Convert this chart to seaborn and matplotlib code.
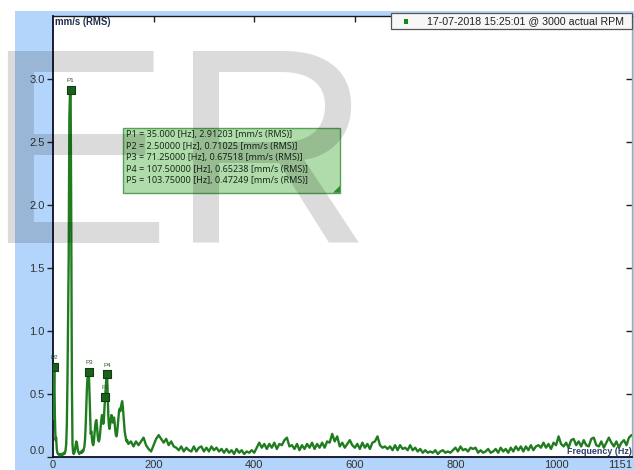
import numpy as np
import pandas as pd
import seaborn as sns
import matplotlib.pyplot as plt
from matplotlib.patches import Rectangle, Polygon

# ---- spectrum data -------------------------------------------------------
# low band: 1.25 Hz bins from 0 to 150 Hz
low_step = 1.25
low_amp = [
    0.30, 0.45, 0.71, 0.32, 0.13, 0.15, 0.06, 0.03, 0.02, 0.02,
    0.01, 0.02, 0.01, 0.02, 0.02, 0.01, 0.02, 0.03, 0.02, 0.03,
    0.05, 0.10, 0.25, 0.60, 1.13, 1.60, 2.70, 2.88, 2.912, 1.90,
    0.60, 0.10, 0.03, 0.02, 0.03, 0.05, 0.09, 0.12, 0.11, 0.07,
    0.04, 0.03, 0.02, 0.03, 0.03, 0.04, 0.03, 0.05, 0.04, 0.06,
    0.08, 0.14, 0.25, 0.40, 0.55, 0.63, 0.66, 0.675, 0.50, 0.30,
    0.18, 0.20, 0.14, 0.10, 0.09, 0.12, 0.18, 0.24, 0.28, 0.29,
    0.24, 0.17, 0.13, 0.12, 0.14, 0.19, 0.25, 0.30, 0.33, 0.30,
    0.26, 0.30, 0.40, 0.472, 0.56, 0.63, 0.652, 0.48, 0.32, 0.24,
    0.22, 0.26, 0.30, 0.33, 0.31, 0.27, 0.29, 0.31, 0.27, 0.21,
    0.17, 0.16, 0.19, 0.25, 0.32, 0.36, 0.38, 0.36, 0.39, 0.42,
    0.44, 0.40, 0.33, 0.25, 0.20, 0.17, 0.14, 0.12, 0.13, 0.11,
    0.10,
]
# high band: 5 Hz bins from 155 to 1150 Hz
high_start = 155.0
high_step = 5.0
high_amp = [
    0.12, 0.08, 0.12, 0.09, 0.12, 0.15, 0.09, 0.06, 0.04, 0.09,
    0.14, 0.17, 0.14, 0.11, 0.14, 0.09, 0.12, 0.08, 0.07, 0.05,
    0.08, 0.04, 0.07, 0.05, 0.04, 0.08, 0.04, 0.07, 0.08, 0.04,
    0.07, 0.04, 0.08, 0.05, 0.07, 0.04, 0.06, 0.03, 0.06, 0.03,
    0.05, 0.02, 0.06, 0.03, 0.05, 0.02, 0.04, 0.03, 0.05, 0.03,
    0.07, 0.11, 0.07, 0.10, 0.06, 0.10, 0.07, 0.11, 0.06, 0.10,
    0.09, 0.13, 0.15, 0.08, 0.09, 0.06, 0.10, 0.05, 0.09, 0.06,
    0.10, 0.07, 0.11, 0.06, 0.10, 0.07, 0.11, 0.07, 0.12, 0.11,
    0.18, 0.12, 0.16, 0.08, 0.11, 0.07, 0.10, 0.13, 0.09, 0.07,
    0.10, 0.06, 0.11, 0.07, 0.10, 0.06, 0.11, 0.12, 0.16, 0.09,
    0.07, 0.08, 0.06, 0.08, 0.05, 0.09, 0.05, 0.09, 0.06, 0.07,
    0.05, 0.09, 0.05, 0.07, 0.04, 0.06, 0.03, 0.05, 0.03, 0.04,
    0.03, 0.05, 0.02, 0.04, 0.05, 0.03, 0.04, 0.03, 0.05, 0.07,
    0.04, 0.08, 0.05, 0.06, 0.04, 0.07, 0.06, 0.07, 0.03, 0.05,
    0.03, 0.04, 0.06, 0.03, 0.04, 0.06, 0.03, 0.07, 0.04, 0.06,
    0.03, 0.07, 0.04, 0.08, 0.05, 0.08, 0.04, 0.08, 0.05, 0.09,
    0.05, 0.08, 0.09, 0.07, 0.11, 0.07, 0.10, 0.06, 0.11, 0.09,
    0.16, 0.10, 0.08, 0.11, 0.07, 0.13, 0.14, 0.09, 0.12, 0.08,
    0.13, 0.09, 0.08, 0.14, 0.15, 0.09, 0.08, 0.12, 0.07, 0.11,
    0.15, 0.11, 0.08, 0.12, 0.07, 0.11, 0.13, 0.09, 0.15, 0.17,
]

# picked peaks
peak_names = ["P1", "P2", "P3", "P4", "P5"]
peak_freq = [35.0, 2.5, 71.25, 107.5, 103.75]
peak_amp = [2.91203, 0.71025, 0.67518, 0.65238, 0.47249]

y_ticks = [0.0, 0.5, 1.0, 1.5, 2.0, 2.5, 3.0]
x_ticks = [0, 200, 400, 600, 800, 1000, 1151]
x_max = 1151
y_max = 3.504

y_unit = "mm/s (RMS)"
x_title = "Frequency (Hz)"
legend_label = "17-07-2018 15:25:01 @ 3000 actual RPM"
watermark = "ER"

freq = np.concatenate([np.arange(len(low_amp)) * low_step,
                       high_start + np.arange(len(high_amp)) * high_step])
spec = pd.DataFrame({"freq": freq, "amp": np.array(low_amp + high_amp)})
peaks = pd.DataFrame({"name": peak_names, "freq": peak_freq, "amp": peak_amp})

# ---- figure ---------------------------------------------------------------
sns.set_style("white")
plt.rcParams["font.family"] = ["Liberation Sans", "DejaVu Sans"]

W, H = 634, 470
fig = plt.figure(figsize=(W / 100, H / 100), dpi=100)
fig.patch.set_facecolor("white")


def fx(px):
    return px / W


def fy(py):
    return 1 - py / H


# light blue frame behind the plot
fig.patches.append(Rectangle((fx(15), 0), 1 - fx(15), fy(11), transform=fig.transFigure,
                             facecolor="#b4d5fb", edgecolor="none", zorder=-5))

ax = fig.add_axes([fx(53), fy(456.5), fx(632) - fx(53), fy(16) - fy(456.5)])
ax.set_facecolor("white")

line_green = "#1f7d1f"
sns.lineplot(data=spec, x="freq", y="amp", ax=ax, color=line_green, linewidth=1.7,
             zorder=3, legend=False)
sns.scatterplot(data=peaks, x="freq", y="amp", ax=ax, marker="s", s=34,
                color="#1d5f1d", edgecolor="#0f3f0f", linewidth=0.8, zorder=5, legend=False)
for _, r in peaks.iterrows():
    ax.annotate(r["name"], (r["freq"], r["amp"]), xytext=(0, 5), textcoords="offset points",
                ha="center", va="bottom", fontsize=4.5, color="#2a5a2a", zorder=6)

ax.set_xlim(0, x_max)
ax.set_ylim(0, y_max)
ax.set_xlabel("")
ax.set_ylabel("")

ax.set_yticks(y_ticks)
ax.set_yticklabels([f"{v:.1f}" for v in y_ticks])
ax.set_xticks(x_ticks)
ax.set_xticklabels([str(v) for v in x_ticks])
ax.tick_params(axis="y", which="both", direction="out", length=4, width=1, color="#222222",
               labelsize=8, labelcolor="#333333", pad=2, left=True, right=False)
ax.tick_params(axis="x", which="both", direction="in", length=0, width=1, color="#222222",
               labelsize=8, labelcolor="#333333", pad=2.5, bottom=True, top=False)
ax.get_xticklabels()[-1].set_ha("right")
ax.get_yticklabels()[0].set_va("bottom")

# inward ticks on top and right
ax_top = ax.secondary_xaxis("top")
ax_top.set_xticks(x_ticks[1:-1])
ax_top.tick_params(direction="in", length=4, width=1, color="#222222", labeltop=False)
ax_top.spines["top"].set_visible(False)
ax_right = ax.secondary_yaxis("right")
ax_right.set_yticks(y_ticks[1:])
ax_right.tick_params(direction="in", length=4, width=1, color="#222222", labelright=False)
ax_right.spines["right"].set_visible(False)

for side, col, lw in [("left", "#0c0c24", 1.3), ("bottom", "#0c0c24", 1.3),
                      ("top", "#1a1a1a", 1.0), ("right", "#a8a8a8", 1.0)]:
    ax.spines[side].set_visible(True)
    ax.spines[side].set_color(col)
    ax.spines[side].set_linewidth(lw)

# axis titles drawn inside the plot
fig.text(fx(55), fy(21.7), y_unit, fontsize=6.9, fontweight="bold", color="#1f2d4d",
         ha="left", va="center", zorder=7)
fig.text(fx(632), fy(451), x_title, fontsize=6.4, fontweight="bold", color="#2c3e6b",
         ha="right", va="center", zorder=7)

# legend box in the top-right corner
fig.patches.append(Rectangle((fx(391), fy(29.3)), fx(632) - fx(391), fy(13.3) - fy(29.3),
                             transform=fig.transFigure, facecolor="#f7f7f7",
                             edgecolor="#555555", linewidth=0.9, zorder=8))
fig.patches.append(Rectangle((fx(403.5), fy(23.5)), fx(5), fy(0) - fy(5),
                             transform=fig.transFigure, facecolor="#138a13",
                             edgecolor="none", zorder=9))
fig.text(fx(427), fy(21.3), legend_label, fontsize=7.7, color="#222222",
         ha="left", va="center", zorder=9)

# peak table
bx0, by0, bx1, by1 = 123.3, 128.3, 340.0, 192.7
fig.patches.append(Rectangle((fx(bx0), fy(by1)), fx(bx1) - fx(bx0), fy(by0) - fy(by1),
                             transform=fig.transFigure, facecolor="#a3d69c", alpha=0.85,
                             edgecolor="#3d963d", linewidth=1.0, zorder=8))
fig.patches.append(Polygon([(fx(bx1), fy(by1)), (fx(bx1 - 7), fy(by1)), (fx(bx1), fy(by1 - 7))],
                           closed=True, transform=fig.transFigure, facecolor="#2f8a2f",
                           edgecolor="none", zorder=9))
for i, (n, f, a) in enumerate(zip(peak_names, peak_freq, peak_amp)):
    f_txt = "35.000" if f == 35.0 else f"{f:.5f}"
    txt = f"{n} = {f_txt} [Hz], {a:.5f} [mm/s (RMS)]"
    fig.text(fx(125.5), fy(135 + i * 11.5), txt, fontsize=6.5, color="#1a2a1a",
             family=["Noto Sans", "DejaVu Sans"], ha="left", va="center", zorder=9)

# watermark
fig.text(fx(-16), fy(243), watermark, fontsize=201, color="black", alpha=0.14,
         ha="left", va="baseline", zorder=20)

fig.savefig("out.png", dpi=100)
